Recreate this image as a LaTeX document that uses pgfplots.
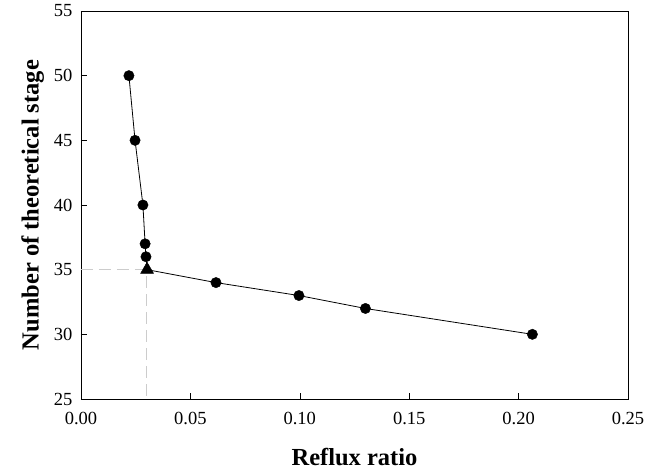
\documentclass[border=0pt]{standalone}
\usepackage{fontspec}
\setmainfont{Liberation Serif}
\usepackage{pgfplots}
\pgfplotsset{compat=1.18}
\begin{document}
\begin{tikzpicture}
\begin{axis}[
  scale only axis,
  width=547pt, height=388pt,
  xmin=0, xmax=0.25, ymin=25, ymax=55,
  xtick={0,0.05,0.1,0.15,0.2,0.25},
  ytick={25,30,35,40,45,50,55},
  xticklabel style={yshift=-10pt},
  yticklabel style={xshift=-5pt},
  x tick label style={/pgf/number format/fixed,/pgf/number format/fixed zerofill,/pgf/number format/precision=2},
  /pgf/number format/assume math mode=true,
  tick align=inside,
  xtick pos=bottom, ytick pos=left,
  major tick length=6pt,
  tick style={black, line width=0.6pt},
  axis line style={line width=0.8pt},
  ticklabel style={font=\fontsize{18.5}{18.5}\selectfont},
  xlabel={\textbf{Reflux ratio}},
  ylabel={\textbf{Number of theoretical stage}},
  label style={font=\fontsize{24.5}{24.5}\selectfont},
  xlabel style={yshift=-16pt},
  ylabel style={yshift=3pt},
]
\addplot[gray!40, dashed, dash pattern=on 12pt off 6pt, line width=1.2pt] coordinates {(0,35) (0.030,35) (0.030,25)};
\addplot[black, line width=0.8pt] coordinates {
(0.0219,50) (0.0247,45) (0.0283,40) (0.0293,37) (0.0297,36) (0.0302,35)
(0.0617,34) (0.0996,33) (0.1300,32) (0.2063,30)
};
\addplot[black, only marks, mark=*, mark size=5.2pt] coordinates {
(0.0219,50) (0.0247,45) (0.0283,40) (0.0293,37) (0.0297,36)
(0.0617,34) (0.0996,33) (0.1300,32) (0.2063,30)
};
\addplot[black, only marks, mark=triangle*, mark size=7.5pt] coordinates {(0.0302,35)};
\end{axis}
\pgfresetboundingbox
\path ([shift={(-81pt,-72pt)}]current axis.south west) rectangle ([shift={(31pt,11pt)}]current axis.north east);
\end{tikzpicture}
\end{document}
